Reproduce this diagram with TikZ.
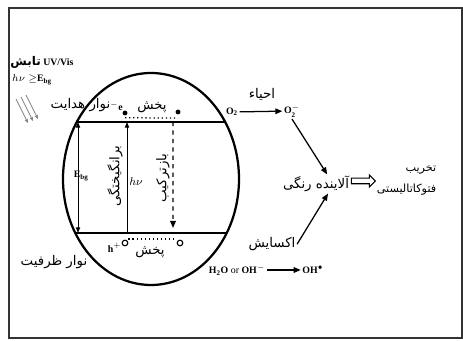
\documentclass[tikz,border=0pt]{standalone}
\usepackage{fontspec}
\setmainfont{Liberation Serif}
\newfontfamily\fafont[Script=Arabic]{DejaVu Sans}
\TeXXeTstate=1
\usetikzlibrary{positioning,arrows.meta,calc,shapes.arrows}
\newcommand{\fa}[1]{{\fafont\beginR#1\endR}}
\newcommand{\particle}{(3.775,4.05) ellipse (2.2 and 2.65)}

\begin{document}
\begin{tikzpicture}[
    fa/.style={font=\fontsize{9.5}{16}\selectfont,inner sep=1pt},
    lat/.style={font=\bfseries\fontsize{7}{8}\selectfont,inner sep=1pt},
    band/.style={line width=1.6pt},
    flow/.style={line width=0.9pt,-{Triangle[length=5pt,width=4pt]}},
    ray/.style={gray,line width=0.6pt,-{Stealth[length=3pt,width=2.5pt]}},
    carrier/.style={circle,fill,inner sep=0pt,minimum size=3.5pt},
    hole/.style={circle,draw,line width=0.8pt,inner sep=0pt,minimum size=4pt},
    diff/.style={dotted,line width=0.9pt},
    fat/.style={single arrow,draw,thick,minimum height=0.6cm,
      single arrow head extend=0.08cm,inner sep=1.6pt}]
    \useasboundingbox (0,0) rectangle (11.575,8.525);
    \draw[line width=0.8pt,black!80] (0.225,0.075) rectangle (11.55,8.325);
    % light on the particle
    \node[lat] (uv) at (1.05,6.975) {{\fa{\fontsize{8.5}{9}\selectfont تابش}} UV/Vis};
    \node[lat] (hv) at (0.8,6.525) {$h\nu\geq$E$_{\mathbf{bg}}$};
    \foreach \k in {0,1,2}
      \draw[ray] (0.4+0.125*\k,6.05+0.05*\k) -- ++(0.3,-0.6);
    % the particle and its bands
    \coordinate (cb) at (0,5.475);  \coordinate (vb) at (0,2.7);
    \begin{scope}\clip \particle;
      \draw[band] (cb) -- ++(8,0);  \draw[band] (vb) -- ++(8,0);
    \end{scope}
    \draw[line width=1.6pt] \particle;
    \node[fa,anchor=east] (cblab) at (2.8,5.9) {\fa{نوار هدایت}};
    \node[fa] (vblab) at (1.35,1.975) {\fa{نوار ظرفیت}};
    % band gap
    \node[lat,fill=white,inner sep=0.5pt] (gap) at (2.03,4.125) {E$_{\mathbf{bg}}$};
    \draw[line width=0.7pt,{Triangle[length=4pt,width=3pt]}-{Triangle[length=4pt,width=3pt]}]
      ([xshift=1.95cm]cb) -- ([xshift=1.95cm]vb);
    % excitation and recombination
    \draw[line width=0.7pt,-{Triangle[length=4pt,width=3pt]}] ([xshift=3.175cm]vb) -- ([xshift=3.175cm]cb);
    \node[lat,font=\fontsize{8}{9}\selectfont] (hnu) at (3.4,3.975) {$h\nu$};
    \node[fa,rotate=90] (exc) at (2.875,4.125) {\fa{برانگیختگی}};
    \coordinate (recend) at (4.325,2.825);
    \draw[dashed,line width=0.9pt,-{Triangle[length=5pt,width=4pt]}] ([xshift=4.325cm]cb) -- (recend);
    \node[fa,rotate=90] (rec) at (4.075,4.075) {\fa{بازترکیب}};
    % electrons diffusing
    \node[carrier] (e1) at (3.125,5.7) {};
    \node[carrier] (e2) at (4.45,5.725) {};
    \node[lat,anchor=south east,inner sep=0pt] (elab) at (e1.north west) {$^{-}$e};
    \draw[diff] ([yshift=-0.12cm]e1.center) -- ([yshift=-0.15cm]e2.center);
    \node[fa] (dtop) at (3.8,5.85) {\fa{پخش}};
    % holes diffusing
    \node[hole] (h1) at (3.125,2.45) {};
    \node[hole] (h2) at (4.5,2.45) {};
    \node[lat,anchor=north east,inner sep=0pt] (hlab) at (h1.west) {h$^{+}$};
    \draw[diff] ([yshift=0.1cm]h1.east) -- ([yshift=0.1cm]h2.west);
    \node[fa] (dbot) at (3.75,2.22) {\fa{پخش}};
    % reduction
    \node[lat] (o2) at (5.8,5.725) {O\textsubscript{2}};
    \node[lat] (o2m) at (7.3,5.75) {O$_{\mathbf 2}^{-}$};
    \draw[flow] (o2) -- (o2m);
    \node[fa] (red) at (6.55,6.17) {\fa{احیاء}};
    % dye and its degradation
    \node[fa] (dye) at (7.9,3.925) {\fa{آلاینده رنگی}};
    \draw[flow] (o2m.south) -- ($(dye.north)+(0.28,0)$);
    \node[fat] (imp) at (9.05,4.0) {};
    \node[fa,font=\fontsize{8}{15}\selectfont,align=right,anchor=east] (deg) at (10.95,4.025)
      {\fa{تخریب}\\\fa{فتوکاتالیستی}};
    % oxidation
    \node[fa] (ox) at (6.8,2.42) {\fa{اکسایش}};
    \draw[flow] (ox.east) -- ($(dye.south)+(0.3,0)$);
    \node[lat] (h2o) at (5.925,1.775) {H\textsubscript{2}O {\mdseries or} OH$^{-}$};
    \node[lat] (oh) at (7.825,1.775) {OH$^{\bullet}$};
    \draw[flow] (h2o) -- (oh);
  \end{tikzpicture}
\end{document}
